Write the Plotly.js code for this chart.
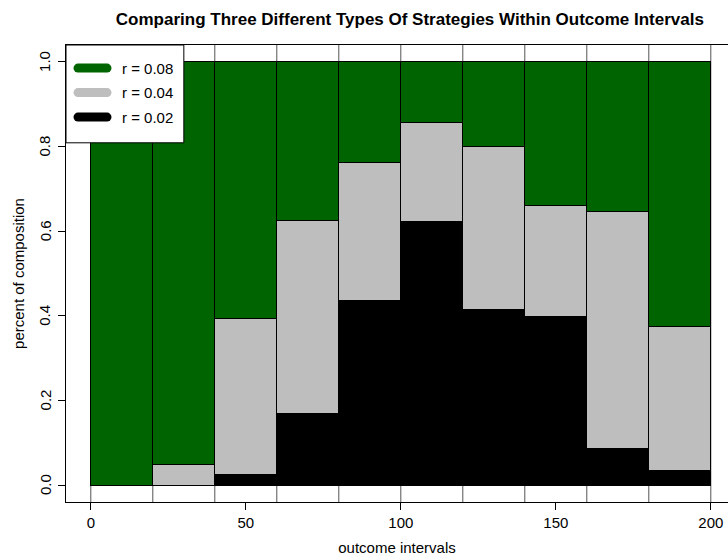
<!DOCTYPE html>
<html>
<head>
<meta charset="utf-8">
<script src="https://cdn.plot.ly/plotly-3.0.1.min.js"></script>
<style>
  html, body { margin: 0; padding: 0; background: #fff; }
  #chart { width: 728px; height: 560px; }
</style>
</head>
<body>
<div id="chart"></div>
<script>
// outcome interval edges (width 20)
const binEdges = [0, 20, 40, 60, 80, 100, 120, 140, 160, 180, 200];

// share of each strategy per interval, stacked bottom to top
const r002 = [0, 0, 0.024, 0.170, 0.437, 0.623, 0.414, 0.398, 0.087, 0.035];
const r004 = [0, 0.049, 0.369, 0.455, 0.326, 0.235, 0.387, 0.263, 0.560, 0.340];
const r008 = [1, 0.951, 0.607, 0.375, 0.237, 0.142, 0.199, 0.339, 0.353, 0.625];

const seriesNames = ['r = 0.02', 'r = 0.04', 'r = 0.08'];
const seriesColors = ['#000000', '#bebebe', '#006400'];

const xTicks = [0, 50, 100, 150, 200];
const yTicks = [0, 0.2, 0.4, 0.6, 0.8, 1.0];

const centers = binEdges.slice(0, -1).map((e, i) => (e + binEdges[i + 1]) / 2);
const widths = binEdges.slice(0, -1).map((e, i) => binEdges[i + 1] - e);

const font = 'Liberation Sans, Arial, sans-serif';

const values = [r002, r004, r008];
const traces = values.map((v, i) => ({
  type: 'bar',
  x: centers,
  y: v,
  width: widths,
  name: seriesNames[i],
  marker: { color: seriesColors[i], line: { color: '#000', width: 1 } },
  showlegend: false,
  hoverinfo: 'x+y+name'
}));

// legend entries drawn as thick lines, top to bottom r = 0.08, 0.04, 0.02
for (let i = 2; i >= 0; i--) {
  traces.push({
    type: 'scatter',
    mode: 'lines',
    x: [null],
    y: [null],
    name: seriesNames[i],
    legendgroup: 'g' + i,
    line: { color: seriesColors[i], width: 9 },
    showlegend: true
  });
}

const gridLines = binEdges.map(e => ({
  type: 'line', xref: 'x', yref: 'paper',
  x0: e, x1: e, y0: 0, y1: 1,
  line: { color: '#555', width: 1 },
  layer: 'below'
}));

// white box behind the legend, like base R legend()
const legendBox = {
  type: 'rect', xref: 'paper', yref: 'paper',
  x0: 0, x1: 0.178, y0: 0.786, y1: 1,
  fillcolor: '#fff', line: { color: '#000', width: 1 },
  layer: 'above'
};

// y tick labels, rotated like base R
const yLabels = yTicks.map(v => ({
  xref: 'paper', yref: 'y', x: 0, y: v,
  xshift: -21, xanchor: 'center', yanchor: 'middle',
  text: v.toFixed(1), textangle: -90, showarrow: false,
  font: { family: font, size: 15, color: '#000' }
}));

const layout = {
  width: 728,
  height: 560,
  margin: { l: 66, r: 0, t: 45, b: 58 },
  paper_bgcolor: '#fff',
  plot_bgcolor: '#fff',
  font: { family: font, size: 15, color: '#000' },
  title: {
    text: '<b>Comparing Three Different Types Of Strategies Within Outcome Intervals</b>',
    font: { family: font, size: 17, color: '#000' },
    xref: 'container', x: 0.563, xanchor: 'center',
    yref: 'container', y: 0.966, yanchor: 'middle'
  },
  barmode: 'stack',
  bargap: 0,
  showlegend: true,
  legend: {
    x: 0, y: 0.985, xanchor: 'left', yanchor: 'top',
    bgcolor: 'rgba(0,0,0,0)', borderwidth: 0,
    font: { family: font, size: 15 },
    itemwidth: 46,
    tracegroupgap: 2,
    traceorder: 'grouped'
  },
  xaxis: {
    range: [-8, 205.55],
    tickvals: xTicks,
    ticktext: xTicks.map(String),
    ticks: 'outside', ticklen: 7, tickcolor: '#000',
    tickfont: { family: font, size: 15 },
    showgrid: false, zeroline: false,
    showline: true, linecolor: '#000', linewidth: 1, mirror: true,
    title: { text: 'outcome intervals', font: { family: font, size: 15 }, standoff: 12 },
    automargin: false
  },
  yaxis: {
    range: [-0.04, 1.04],
    tickvals: yTicks,
    showticklabels: false,
    ticks: 'outside', ticklen: 7, tickcolor: '#000',
    showgrid: false, zeroline: false,
    showline: true, linecolor: '#000', linewidth: 1,
    title: { text: 'percent of composition', font: { family: font, size: 15 }, standoff: 29 },
    automargin: false
  },
  annotations: yLabels,
  shapes: gridLines.concat([legendBox])
};

Plotly.newPlot('chart', traces, layout, { displayModeBar: false, staticPlot: true }).then(() => {
  document.querySelectorAll('.legendlines path').forEach(p => {
    p.setAttribute('d', 'M12,0h29');
    p.style.strokeLinecap = 'round';
  });
});
</script>
</body>
</html>
